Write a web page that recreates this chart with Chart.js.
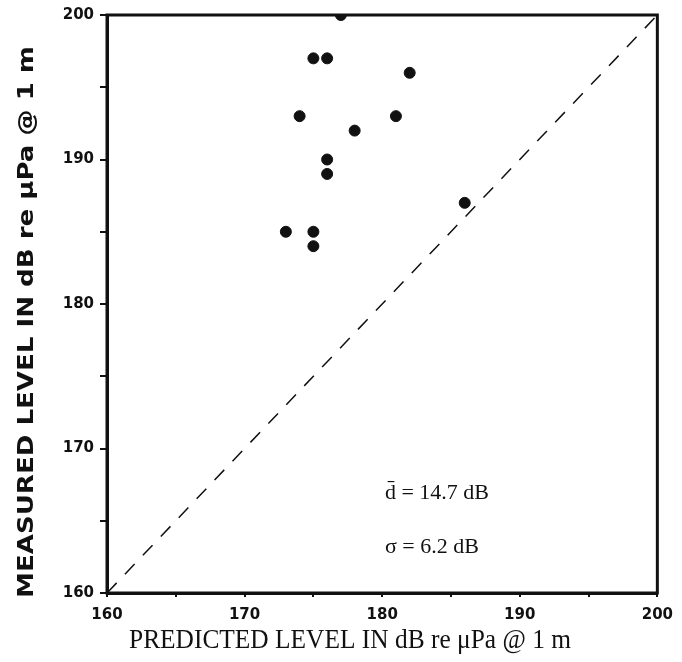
<!DOCTYPE html>
<html>
<head>
<meta charset="utf-8">
<script src="https://cdn.jsdelivr.net/npm/chart.js@4"></script>
<style>
  html, body { margin: 0; padding: 0; background: #fff; }
  #wrap { width: 682px; height: 662px; position: relative; }
</style>
</head>
<body>
<div id="wrap"><canvas id="chart"></canvas></div>
<script>
// data
const predicted = [177, 175, 176, 182, 174, 181, 178, 176, 176, 186, 173, 175, 175];
const measured  = [200, 197, 197, 196, 193, 193, 192, 190, 189, 187, 185, 185, 184];
const lineX = [160, 200];
const lineY = [160, 200];
const tickLabels = [160, 170, 180, 190, 200];
const stats = ['d\u0304 = 14.7 dB', '\u03c3 = 6.2 dB'];
const statsPos = [[180.2, 166.9], [180.2, 163.2]];
const xTitle = 'PREDICTED LEVEL IN dB re \u03bcPa @ 1 m';
const yTitle = 'MEASURED LEVEL IN dB re \u03bcPa @ 1 m';

const ink = '#111';

// draw text squeezed/stretched to a given length
function fitText(ctx, text, cx, cy, len, rot) {
  const w = ctx.measureText(text).width;
  ctx.save();
  ctx.translate(cx, cy);
  if (rot) ctx.rotate(-Math.PI / 2);
  ctx.scale(len / w, 1);
  ctx.textAlign = 'center';
  ctx.textBaseline = 'middle';
  ctx.fillText(text, 0, 0);
  ctx.restore();
}

const textLayer = {
  id: 'textLayer',
  afterDraw(chart) {
    const { ctx, scales, chartArea: a } = chart;
    ctx.save();
    ctx.strokeStyle = ink;
    ctx.lineWidth = 3;
    ctx.strokeRect(a.left, a.top, a.right - a.left, a.bottom - a.top);

    ctx.fillStyle = ink;
    ctx.font = '22px "Liberation Serif", serif';
    ctx.textBaseline = 'middle';
    stats.forEach((s, i) => {
      ctx.fillText(s, scales.x.getPixelForValue(statsPos[i][0]), scales.y.getPixelForValue(statsPos[i][1]));
    });

    ctx.font = '27px "Liberation Serif", serif';
    fitText(ctx, xTitle, 350, 641, 442, false);
    ctx.font = 'bold 22px "DejaVu Sans", sans-serif';
    fitText(ctx, yTitle, 27, 322, 552, true);
    ctx.restore();
  }
};

const tickCb = v => tickLabels.includes(v) ? String(v) : '';
const tickFont = { family: '"DejaVu Sans", sans-serif', size: 15, weight: 'bold' };

new Chart(document.getElementById('chart'), {
  type: 'scatter',
  data: {
    datasets: [
      {
        data: predicted.map((x, i) => ({ x, y: measured[i] })),
        backgroundColor: ink,
        borderColor: ink,
        pointRadius: 5.5,
        pointHoverRadius: 5.5
      },
      {
        type: 'line',
        data: lineX.map((x, i) => ({ x, y: lineY[i] })),
        borderColor: ink,
        borderWidth: 1.5,
        borderDash: [14, 12],
        pointRadius: 0,
        fill: false
      }
    ]
  },
  options: {
    responsive: true,
    maintainAspectRatio: false,
    animation: false,
    layout: { padding: { top: 15, right: 23, left: 0, bottom: 0 } },
    plugins: { legend: { display: false }, tooltip: { enabled: false } },
    scales: {
      x: {
        type: 'linear', min: 160, max: 200,
        border: { display: true, color: ink, width: 3 },
        grid: { drawOnChartArea: false, color: ink, tickLength: 4, lineWidth: 2 },
        ticks: { stepSize: 5, autoSkip: false, maxRotation: 0, callback: tickCb, color: ink, padding: 9, font: tickFont },
        afterFit(s) { s.height = 69; }
      },
      y: {
        type: 'linear', min: 160, max: 200,
        border: { display: true, color: ink, width: 3 },
        grid: { drawOnChartArea: false, color: ink, tickLength: 7, lineWidth: 2 },
        ticks: { stepSize: 5, autoSkip: false, callback: tickCb, color: ink, padding: 6, font: tickFont },
        afterFit(s) { s.width = 107; }
      }
    }
  },
  plugins: [textLayer]
});
</script>
</body>
</html>
